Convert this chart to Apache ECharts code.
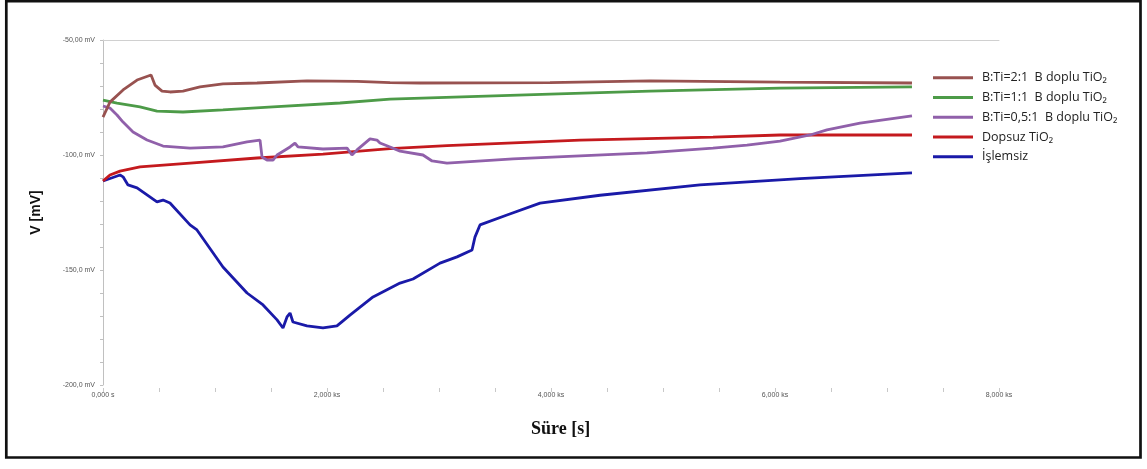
<!DOCTYPE html>
<html>
<head>
<meta charset="utf-8">
<script src="https://cdn.jsdelivr.net/npm/echarts@6/dist/echarts.min.js"></script>
<style>
html,body{margin:0;padding:0;background:#fff;}
#c{width:1147px;height:469px;}
</style>
</head>
<body>
<div id="c"></div>
<script>
// Series names
const seriesNames = ['B:Ti=2:1  B doplu TiO\u2082', 'B:Ti=1:1  B doplu TiO\u2082', 'B:Ti=0,5:1  B doplu TiO\u2082', 'Dopsuz TiO\u2082', '\u0130\u015flemsiz'];
const seriesColors = ['#985250', '#4d9b48', '#9060aa', '#c41a1e', '#1a1aa8'];

// [time s, potential mV]
const brown = [[0,-83.5],[62,-77],[179,-71.7],[304,-67.4],[429,-65.2],[464,-69.6],[527,-72.2],[598,-72.6],[714,-72.2],[866,-70.4],[1071,-69.1],[1375,-68.7],[1821,-67.8],[2268,-68],[2563,-68.5],[2830,-68.7],[3991,-68.5],[4884,-67.8],[6045,-68.3],[7223,-68.7]];
const green = [[0,-76.1],[125,-77.4],[330,-79.1],[482,-80.9],[714,-81.3],[1071,-80.4],[1518,-79.1],[2116,-77.4],[2563,-75.7],[3991,-73.5],[4884,-72.2],[6045,-70.9],[7223,-70.4]];
const purple = [[0,-78.7],[62,-79.6],[125,-82.6],[179,-85.7],[268,-90],[393,-93.5],[536,-96.1],[777,-97],[1071,-96.5],[1286,-94.3],[1402,-93.5],[1420,-100.9],[1464,-102.2],[1518,-102.2],[1554,-100],[1670,-96.5],[1714,-94.8],[1741,-96.5],[1964,-97.4],[2179,-97],[2223,-100],[2268,-97.8],[2384,-93],[2446,-93.5],[2473,-94.8],[2563,-96.5],[2652,-98.3],[2857,-100],[2938,-102.6],[3071,-103.5],[3661,-101.7],[4259,-100.4],[4857,-99.1],[5446,-97],[5750,-95.7],[6045,-94],[6313,-91.3],[6464,-89.1],[6759,-86.1],[7223,-83]];
const red = [[0,-111.3],[62,-108.7],[152,-107],[330,-105.2],[777,-103.5],[1375,-101.3],[1964,-99.6],[2563,-97.2],[3071,-95.9],[4259,-93.5],[5446,-92.2],[6045,-91.3],[7223,-91.3]];
const blue = [[0,-111.3],[152,-108.7],[179,-109.5],[223,-113],[304,-114.3],[482,-120.4],[536,-119.6],[598,-120.9],[777,-130.4],[839,-132.6],[1071,-148.7],[1286,-160],[1429,-165.2],[1554,-171.7],[1607,-175.2],[1643,-170.4],[1670,-168.7],[1696,-172.6],[1821,-174.3],[1964,-175.2],[2089,-174.3],[2205,-169.6],[2411,-161.7],[2652,-155.7],[2768,-153.9],[3009,-147],[3161,-144.3],[3295,-141.3],[3321,-135.7],[3366,-130.4],[3607,-126.1],[3902,-120.9],[4438,-117.5],[5330,-113],[6223,-110.3],[7223,-107.8]];
const allSeries = [brown, green, purple, red, blue];

// Tick labels
const yLabelValues = [-200, -150, -100, -50];
const yLabelTexts = ['-200,0 mV', '-150,0 mV', '-100,0 mV', '-50,00 mV'];
const xLabelValues = [0, 2000, 4000, 6000, 8000];
const xLabelTexts = ['0,000 s', '2,000 ks', '4,000 ks', '6,000 ks', '8,000 ks'];

const chart = echarts.init(document.getElementById('c'), null, {renderer: 'canvas'});
const option = {
  animation: false,
  backgroundColor: '#fff',
  grid: {left: 103, top: 40, right: 148, bottom: 84, containLabel: false},
  legend: {
    orient: 'vertical', left: 928, top: 63,
    itemWidth: 40, itemHeight: 3, itemGap: 0, icon: 'rect',
    textStyle: {fontFamily: 'Open Sans', fontSize: 12.5, color: '#222', lineHeight: 19.7, padding: [0, 0, 0, 4]},
    data: seriesNames
  },
  xAxis: [{
    type: 'value', min: 0, max: 8000, interval: 500, offset: 3,
    axisLine: {show: false},
    axisTick: {show: true, length: 4, lineStyle: {color: '#c8c8c8'}},
    splitLine: {show: false},
    axisLabel: {
      margin: 4, fontSize: 7, color: '#555', fontFamily: 'Liberation Sans',
      formatter: function (v) { const i = xLabelValues.indexOf(v); return i >= 0 ? xLabelTexts[i] : ''; }
    }
  }, {
    type: 'value', position: 'top', min: 0, max: 8000,
    axisLine: {show: true, lineStyle: {color: '#d0d0d0'}},
    axisTick: {show: false}, axisLabel: {show: false}, splitLine: {show: false}
  }],
  yAxis: {
    type: 'value', min: -200, max: -50, interval: 10,
    name: 'V [mV]', nameLocation: 'middle', nameGap: 60, nameRotate: 90,
    nameTextStyle: {fontFamily: 'Liberation Sans', fontWeight: 'bold', fontSize: 14, color: '#111'},
    axisLine: {show: true, lineStyle: {color: '#c0c0c0'}},
    axisTick: {show: true, length: 3, lineStyle: {color: '#c0c0c0'}},
    splitLine: {show: false},
    axisLabel: {
      margin: 8, fontSize: 7, color: '#555', fontFamily: 'Liberation Sans',
      formatter: function (v) { const i = yLabelValues.indexOf(v); return i >= 0 ? yLabelTexts[i] : ''; }
    }
  },
  graphic: [
    {type: 'rect', shape: {x: 6.3, y: 1.2, width: 1134.2, height: 456.3}, style: {fill: 'none', stroke: '#111', lineWidth: 2.7}, silent: true},
    {type: 'text', left: 531, top: 420, style: {text: 'S\u00fcre [s]', fontFamily: 'Liberation Serif', fontWeight: 'bold', fontSize: 18, fill: '#111'}, silent: true}
  ],
  series: allSeries.map(function (d, i) {
    return {
      name: seriesNames[i], type: 'line', data: d, showSymbol: false, symbol: 'none',
      color: seriesColors[i], lineStyle: {width: 2.8, color: seriesColors[i]}, smooth: false, z: 10 - i
    };
  })
};
chart.setOption(option);
</script>
</body>
</html>
